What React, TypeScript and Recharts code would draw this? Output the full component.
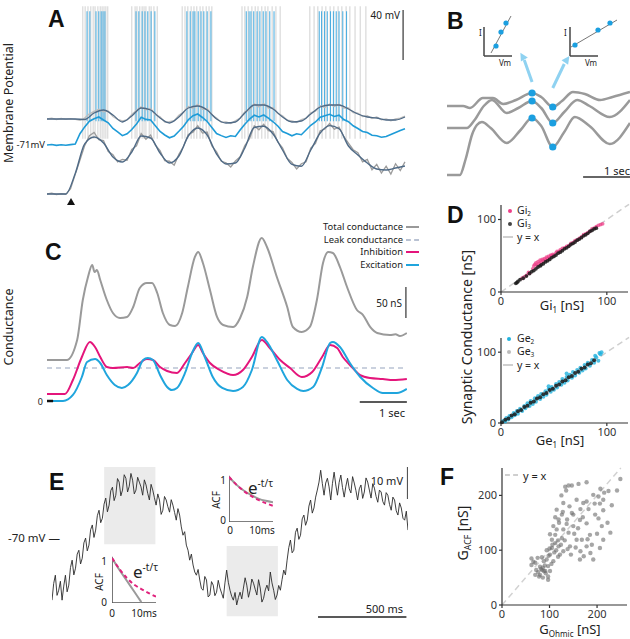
import React from 'react';
import {
  LineChart, ComposedChart, ScatterChart, Line, Scatter, XAxis, YAxis,
  ReferenceLine, ReferenceArea, ReferenceDot,
} from 'recharts';

const FONT = '"Noto Sans", "Open Sans", sans-serif';
const BOLD = '"Liberation Sans", Arial, sans-serif';
const M0 = { top: 0, right: 0, bottom: 0, left: 0 };

// ---------------- Panel A (membrane potential, mV; time s) ----------------
const A_SMOOTH_DT = 0.2;
const A_NOISE_DT = 0.1;
const A_TOP_SMOOTH = [-50.2, -50.2, -50.2, -50.2, -50.6, -45.4, -43.0, -47.0, -52.6, -47.8, -41.4, -43.0, -49.4, -53.4, -48.6, -41.4, -39.8, -43.0, -50.2, -53.4, -52.6, -45.4, -39.0, -39.0, -42.2, -48.6, -52.6, -51.8, -46.2, -40.6, -39.0, -39.0, -42.2, -46.2, -48.6, -49.4, -51.0, -51.0, -48.6];
const A_TOP_NOISE = [-50.2, -49.6, -50.6, -49.8, -50.4, -49.9, -50.5, -51.2, -49.5, -46.0, -44.2, -42.5, -44.5, -43.8, -48.2, -50.5, -51.8, -50.9, -46.5, -43.2, -40.5, -42.8, -41.9, -46.8, -48.5, -52.6, -52.4, -51.5, -47.2, -44.6, -40.2, -41.5, -38.6, -42.5, -42.0, -46.8, -49.5, -52.8, -52.5, -53.8, -51.6, -49.5, -44.5, -42.8, -38.2, -40.5, -38.0, -41.5, -41.2, -45.8, -47.6, -51.2, -51.8, -53.0, -50.8, -49.5, -45.2, -44.0, -39.6, -41.0, -38.2, -40.2, -38.4, -41.5, -41.4, -45.0, -45.5, -48.2, -47.6, -49.8, -48.6, -50.8, -50.2, -51.6, -50.2, -49.6, -48.0];
const A_MID = [-71.0, -70.6, -71.3, -70.8, -71.2, -70.7, -70.2, -62.0, -56.5, -52.0, -50.0, -48.6, -51.0, -53.2, -57.8, -60.5, -63.5, -62.0, -58.6, -54.2, -48.8, -50.5, -51.0, -55.6, -60.2, -63.0, -65.2, -63.8, -60.0, -56.0, -50.8, -47.5, -46.2, -49.0, -52.2, -57.0, -61.8, -63.5, -65.0, -63.6, -64.2, -59.0, -54.4, -50.2, -47.2, -48.6, -47.0, -49.5, -52.4, -55.8, -60.2, -61.8, -63.6, -62.0, -62.8, -59.0, -55.2, -52.6, -48.8, -47.6, -46.4, -48.2, -47.2, -50.6, -52.4, -55.6, -57.8, -60.2, -61.0, -63.2, -63.6, -64.8, -64.2, -62.6, -61.0, -59.4, -58.0];
const A_BOT_SMOOTH = [-110.2, -110.2, -110.2, -93.7, -70.1, -64.6, -69.4, -80.6, -84.6, -76.6, -63.8, -65.4, -77.4, -85.4, -79.8, -63.8, -57.4, -63.0, -78.2, -86.2, -85.4, -73.4, -57.0, -56.0, -62.2, -75.0, -86.5, -88.0, -75.0, -61.4, -55.5, -58.0, -71.8, -79.0, -85.4, -90.2, -91.0, -89.4, -87.8];
const A_BOT_NOISE = [-110.2, -109.6, -110.6, -110.0, -110.4, -106.0, -94.5, -83.0, -71.5, -63.5, -61.0, -66.8, -67.5, -76.2, -78.8, -84.5, -82.6, -83.2, -74.5, -71.6, -61.8, -66.4, -63.0, -71.2, -75.5, -83.6, -84.0, -87.2, -78.5, -72.0, -62.5, -60.8, -55.6, -61.5, -60.6, -71.8, -76.5, -84.0, -85.2, -88.6, -83.8, -80.4, -71.5, -66.0, -55.6, -58.8, -54.4, -59.6, -60.2, -68.5, -73.2, -81.6, -85.0, -90.2, -86.0, -84.4, -73.5, -69.8, -59.6, -58.2, -53.8, -58.4, -56.6, -64.2, -69.5, -74.8, -77.2, -84.5, -82.6, -90.8, -86.5, -93.5, -88.0, -94.2, -86.0, -91.5, -84.5];
const A_GRAY_SPIKES = [0.76, 0.81, 0.87, 0.93, 0.98, 1.02, 1.08, 1.13, 1.17, 1.21, 1.25, 1.29, 1.80, 1.87, 1.91, 1.97, 2.02, 2.06, 2.10, 2.17, 2.21, 2.27, 2.34, 2.87, 2.93, 2.99, 3.06, 3.12, 3.18, 3.25, 3.31, 3.38, 3.44, 3.50, 4.14, 4.20, 4.27, 4.35, 4.42, 4.48, 4.56, 4.63, 4.69, 4.78, 4.86, 4.95, 5.58, 5.67, 5.75, 5.84, 5.92, 6.01, 6.09, 6.18, 6.26, 6.35, 6.43, 6.54, 6.65, 6.77];
const A_BLUE_SPIKES = [0.85, 0.91, 1.04, 1.10, 1.15, 1.19, 1.23, 1.89, 1.95, 2.02, 2.08, 2.14, 2.21, 2.29, 2.97, 3.04, 3.10, 3.14, 3.21, 3.27, 3.33, 3.40, 3.48, 4.23, 4.29, 4.33, 4.39, 4.46, 4.52, 4.59, 4.65, 4.73, 4.82, 5.78, 5.83, 5.89, 5.95, 6.02, 6.08, 6.14, 6.20, 6.28, 6.36];
const A_GRAY_SPIKE_RANGE = [-66, 40];
const A_BLUE_SPIKE_RANGE = [-52, 36];
const A_STIM = { t: 0.51, v: -116.6 };

// ---------------- Panel B ----------------
const B_TOP = [[0, -53], [0.35, -53], [0.5, -54], [0.78, -49], [1.0, -49], [1.22, -52], [1.5, -50], [1.85, -46.5], [2.05, -48.5], [2.3, -53.5], [2.5, -50.5], [2.74, -46], [3.0, -47], [3.33, -50], [3.6, -48.5], [3.98, -46]];
const B_MID = [[0, -64], [0.43, -64], [0.6, -60], [0.8, -53], [0.98, -50], [1.3, -56.5], [1.55, -54], [1.85, -50.5], [2.05, -54], [2.3, -61.5], [2.55, -56], [2.83, -50], [3.1, -53], [3.54, -58.5], [3.98, -50]];
const B_BOT = [[0, -87.5], [0.28, -87.5], [0.4, -80], [0.55, -67], [0.65, -62.5], [0.76, -61], [0.95, -64], [1.3, -71.5], [1.6, -65], [1.85, -59], [2.05, -63], [2.3, -73.5], [2.55, -66], [2.78, -58.5], [3.1, -63], [3.54, -72], [3.98, -61.5]];
const B_DOTS = [[1.85, -46.5], [1.85, -50.5], [1.85, -59], [2.3, -53.5], [2.3, -61.5], [2.3, -73.5]];
const B_IV_LEFT_FIT = [[7, 3], [27, 40]];
const B_IV_LEFT_PTS = [[12, 10], [17, 24], [22, 33]];
const B_IV_RIGHT_FIT = [[1, 9], [47, 36]];
const B_IV_RIGHT_PTS = [[5, 11], [28, 26], [40, 33]];

// ---------------- Panel C (conductance nS; time s) ----------------
const C_TOTAL = [[0, 66.1], [0.42, 66.1], [0.64, 98.4], [0.76, 162.9], [0.87, 200.0], [0.96, 219.4], [1.01, 208], [1.06, 211.3], [1.13, 195.2], [1.27, 162.9], [1.40, 141.9], [1.55, 133.9], [1.70, 135.5], [1.83, 151.6], [1.97, 182.3], [2.12, 190.3], [2.23, 190.3], [2.34, 174.2], [2.46, 141.9], [2.61, 122.6], [2.72, 121.0], [2.87, 141.9], [2.99, 183.9], [3.14, 232.3], [3.21, 240.3], [3.31, 222.6], [3.46, 179.0], [3.61, 135.5], [3.74, 122.6], [3.95, 119.4], [4.10, 133.9], [4.25, 167.7], [4.37, 216.1], [4.56, 262.9], [4.67, 248.4], [4.88, 200.0], [5.10, 151.6], [5.22, 119.4], [5.41, 111.3], [5.58, 119.4], [5.73, 162.9], [5.86, 222.6], [5.97, 240.3], [6.07, 238.7], [6.22, 216.1], [6.37, 183.9], [6.58, 146.8], [6.71, 138.7], [6.86, 119.4], [7.01, 109.7], [7.28, 106.5], [7.40, 107.5], [7.49, 104.8], [7.64, 109.7]];
const C_INH = [[0, 11.3], [0.38, 11.3], [0.55, 33.9], [0.74, 71.0], [0.91, 95.2], [1.02, 87.1], [1.13, 71.0], [1.27, 54.8], [1.40, 53.2], [1.70, 54.8], [1.83, 53.2], [1.97, 61.3], [2.12, 67.7], [2.25, 66.1], [2.40, 54.8], [2.55, 48.4], [2.76, 45.2], [2.93, 61.3], [3.08, 77.4], [3.21, 90.3], [3.31, 77.4], [3.46, 61.3], [3.67, 50.0], [3.95, 41.9], [4.16, 50.0], [4.35, 71.0], [4.56, 98.4], [4.73, 85.5], [4.95, 66.1], [5.16, 53.2], [5.41, 38.7], [5.63, 46.8], [5.84, 71.0], [6.01, 90.3], [6.16, 85.5], [6.28, 71.0], [6.43, 58.1], [6.65, 41.9], [6.86, 37.1], [7.13, 35.5], [7.35, 33.9], [7.64, 35.5]];
const C_EXC = [[0, 0], [0.34, 0], [0.55, 9.7], [0.74, 38.7], [0.85, 62.9], [1.02, 67.7], [1.13, 61.3], [1.27, 41.9], [1.44, 25.8], [1.59, 21.0], [1.72, 25.8], [1.91, 45.2], [2.04, 66.1], [2.14, 69.4], [2.25, 66.1], [2.40, 41.9], [2.55, 22.6], [2.65, 17.7], [2.76, 21.0], [2.93, 45.2], [3.08, 77.4], [3.21, 93.6], [3.35, 71.0], [3.52, 38.7], [3.72, 21.0], [3.95, 16.1], [4.16, 22.6], [4.35, 50.0], [4.56, 103.2], [4.67, 95.2], [4.88, 66.1], [5.10, 33.9], [5.31, 19.4], [5.44, 16.1], [5.65, 22.6], [5.84, 54.8], [6.01, 93.6], [6.07, 95.2], [6.22, 87.1], [6.43, 61.3], [6.65, 38.7], [6.92, 21.0], [7.13, 12.9], [7.43, 12.9], [7.64, 19.4]];
const C_LEAK = 53.2;

// ---------------- Panel D (nS) ----------------
const D_GI2 = [[20, 19], [22, 21], [24, 23], [26, 27], [27, 26], [30, 32], [31, 36], [32, 38], [33, 40], [34, 37], [35, 42], [36, 39], [37, 44], [38, 41], [39, 45], [40, 43], [41, 46], [42, 44], [43, 48], [44, 46], [45, 49], [46, 47], [47, 51], [48, 50], [49, 52], [50, 51], [52, 54], [53, 56], [55, 56], [56, 58], [58, 60], [60, 61], [62, 63], [64, 64], [66, 67], [68, 68], [70, 71], [72, 72], [74, 74], [76, 76], [78, 79], [80, 80], [82, 82], [84, 84], [86, 87], [88, 88], [90, 90], [92, 92], [94, 93], [96, 94]];
const D_GI3 = [[14, 12], [15, 13], [16, 14.5], [18, 17], [21, 19], [24, 22], [27, 25.5], [29, 28], [31, 29.5], [33, 32], [35, 34.5], [37, 36], [38, 37.5], [40, 39], [42, 41.5], [44, 43], [46, 45], [48, 47.5], [50, 49], [52, 51], [54, 53.5], [56, 55], [58, 57], [60, 59.5], [62, 61], [64, 63], [66, 65.5], [68, 67], [70, 69], [72, 71.5], [74, 73], [76, 75], [78, 77.5], [80, 79], [82, 81], [84, 83.5], [86, 85], [88, 87], [90, 88]];
const D_GE2 = [[2, 3], [4, 2], [5, 7], [7, 5], [8, 10], [10, 8], [12, 14], [13, 11], [15, 17], [16, 13], [18, 20], [20, 17], [22, 24], [23, 21], [25, 28], [27, 24], [28, 31], [30, 27], [32, 35], [33, 30], [35, 38], [37, 34], [38, 41], [40, 37], [42, 45], [43, 40], [45, 48], [47, 44], [48, 51], [50, 47], [52, 55], [53, 50], [55, 58], [57, 54], [58, 62], [60, 57], [62, 65], [63, 60], [65, 68], [67, 64], [68, 72], [70, 67], [72, 75], [74, 71], [75, 78], [77, 74], [79, 82], [80, 77], [82, 85], [84, 81], [86, 89], [88, 85], [90, 93], [92, 88], [94, 97], [95, 100], [93, 99], [89, 95], [62, 70], [45, 52]];
const D_GE3 = [[1, 1], [4, 4.5], [7, 6.5], [10, 10.5], [13, 12.5], [16, 16.5], [19, 18.5], [22, 22.5], [25, 24.5], [28, 28.5], [31, 30.5], [34, 34.5], [37, 36.5], [40, 40.5], [43, 42.5], [46, 46.5], [49, 48.5], [52, 52.5], [55, 54.5], [58, 58.5], [61, 60.5], [64, 64.5], [67, 66.5], [70, 70.5], [73, 72.5], [76, 76.5], [79, 78.5], [82, 82.5], [85, 84.5], [88, 88.5]];

// ---------------- Panel E (mV; ms) ----------------
const E_DT_MS = 9.5;
const E_TRACE = [
  -89.4, -84.2, -81.6, -87.9, -86.3, -83.5, -89.4, -85.0, -81.6, -86.8, -84.7, -79.2, -76.9, -81.5, -79.4, -75.0, -73.8, -78.1, -76.3, -71.5,
  -70.0, -74.0, -72.2, -67.4, -65.9, -69.8, -67.5, -63.0, -61.3, -65.2, -63.8, -59.4, -57.5, -61.8, -59.7, -55.2, -54.1, -58.3, -56.6, -51.4,
  -52.5, -56.8, -55.0, -50.2, -51.3, -55.6, -53.8, -49.8, -51.9, -56.2, -55.0, -51.0, -52.5, -54.0, -56.6, -51.8, -53.4, -56.0, -58.1, -53.2,
  -55.0, -57.4, -59.7, -56.2, -58.1, -62.6, -61.3, -57.0, -58.1, -60.2, -61.9, -58.0, -59.7, -62.0, -64.4, -60.8, -62.8, -66.5, -69.1, -68.0,
  -72.2, -73.8, -76.9, -75.0, -78.4, -80.6, -81.6, -79.8, -83.1, -85.8, -86.3, -82.0, -83.1, -88.4, -87.8, -83.6, -84.7, -88.0, -86.9, -83.2,
  -85.6, -87.2, -88.8, -84.0, -80.0, -83.8, -86.3, -88.2, -89.4, -87.0, -90.9, -88.6, -86.9, -89.0, -85.6, -82.4, -84.7, -88.5, -86.3, -82.8,
  -84.1, -86.0, -87.8, -83.0, -85.6, -90.0, -88.8, -86.2, -84.7, -86.5, -80.6, -84.0, -86.3, -89.2, -87.8, -84.8, -86.3, -83.0, -80.0, -81.5,
  -76.9, -73.0, -70.6, -74.6, -73.8, -68.2, -66.9, -70.4, -69.1, -64.0, -62.8, -66.0, -64.4, -60.0, -58.1, -62.2, -60.6, -57.2, -55.0, -52.5,
  -48.8, -53.0, -56.6, -52.8, -51.3, -54.0, -58.1, -53.0, -49.4, -53.4, -56.6, -52.6, -50.3, -54.2, -57.2, -53.8, -51.3, -54.6, -55.9, -50.8,
  -52.8, -55.2, -58.1, -54.6, -53.4, -57.6, -55.6, -51.2, -52.5, -55.0, -57.5, -53.0, -54.4, -57.0, -58.8, -55.0, -55.6, -58.6, -59.7, -55.8,
  -56.6, -59.5, -61.3, -57.2, -58.1, -61.5, -62.8, -59.0, -60.6, -63.8, -64.4, -61.6, -67.5,
];
const E_WINDOWS = [{ t1: 295, t2: 585, v1: -71.9, v2: -47.8 }, { t1: 988, t2: 1278, v1: -94.4, v2: -72.5 }];
const ACF_LAG = [0, 2.5, 5, 7.5, 10, 12.5, 15];
const ACF1_DATA = [1, 0.74, 0.5, 0.26, 0.02];
const ACF1_FIT = [1, 0.76, 0.56, 0.41, 0.31, 0.22, 0.14];
const ACF2_DATA = [1, 0.83, 0.7, 0.6, 0.52, 0.47, 0.44];
const ACF2_FIT = [1, 0.83, 0.69, 0.58, 0.49, 0.42, 0.36];

// ---------------- Panel F (nS) ----------------
const F_PTS = [[62, 85], [66, 79], [62, 73], [70, 77], [75, 86], [84, 87], [80, 70], [84, 64], [80, 55], [70, 55], [76, 60], [82, 66], [86, 68], [88, 62], [90, 72], [94, 83], [97, 71], [91, 62], [97, 52], [97, 46], [101, 62], [108, 80], [101, 92], [105, 104], [112, 113], [119, 107], [122, 92], [129, 98], [126, 122], [115, 138], [108, 144], [119, 156], [126, 165], [115, 174], [129, 186], [133, 216], [135, 209], [140, 218], [147, 218], [161, 221], [178, 224], [157, 192], [171, 186], [178, 189], [192, 201], [203, 198], [213, 192], [206, 185], [231, 182], [213, 173], [203, 158], [178, 149], [164, 155], [150, 144], [140, 132], [143, 107], [157, 119], [168, 119], [178, 107], [186, 95], [189, 110], [172, 89], [192, 83], [206, 104], [213, 119], [210, 144], [228, 132], [242, 209], [249, 230], [164, 83], [137, 156], [147, 168], [129, 138], [101, 129], [105, 119], [110, 96], [114, 100], [118, 88], [124, 110], [132, 118], [138, 102], [145, 92], [152, 130], [160, 140], [170, 160], [182, 175], [196, 165], [222, 150], [200, 130], [185, 128], [155, 105], [165, 98], [120, 150], [112, 128], [98, 90], [94, 100], [104, 75], [88, 80], [112, 160], [128, 170], [142, 180], [125, 200], [136, 148], [150, 165], [165, 175], [180, 120], [195, 185], [207, 212], [215, 205], [224, 208], [118, 118], [106, 110], [100, 103], [92, 58], [86, 50], [78, 52], [72, 64]];

// ---------------- helpers ----------------
const seq = (vals: number[], dt: number) => vals.map((v, i) => ({ t: Math.round(i * dt * 1000) / 1000, v }));
const pairs = (arr: number[][]) => arr.map(([t, v]) => ({ t, v }));
const xy = (arr: number[][]) => arr.map(([x, y]) => ({ x, y }));
const spikeRows = (times: number[], range: number[]) =>
  times.flatMap((t) => [{ t, v: range[0] }, { t, v: range[1] }, { t, v: null as number | null }]);
const lagRows = (vals: number[]) => vals.map((v, i) => ({ t: ACF_LAG[i], v }));

type TP = { x: number; y: number; size?: number; anchor?: 'start' | 'middle' | 'end'; rotate?: number; bold?: boolean; color?: string; family?: string; children: React.ReactNode };
const T = ({ x, y, size = 11, anchor = 'start', rotate = 0, bold = false, color = '#222', family = FONT, children }: TP) => {
  const tx = anchor === 'start' ? '0%' : anchor === 'middle' ? '-50%' : '-100%';
  return (
    <div style={{ position: 'absolute', left: x, top: y, fontSize: size, fontFamily: family, fontWeight: bold ? 700 : 400, color, lineHeight: 1, whiteSpace: 'nowrap', transform: `translate(${tx},-50%)${rotate ? ` rotate(${rotate}deg)` : ''}` }}>
      {children}
    </div>
  );
};
const Pos = ({ x, y, children }: { x: number; y: number; children: React.ReactNode }) => (
  <div style={{ position: 'absolute', left: x, top: y }}>{children}</div>
);
const Dot = ({ x, y, c, r = 2 }: { x: number; y: number; c: string; r?: number }) => (
  <div style={{ position: 'absolute', left: x - r, top: y - r, width: r * 2, height: r * 2, borderRadius: '50%', background: c }} />
);
const Dash = ({ x, y, w, c, dashed = false, h = 2 }: { x: number; y: number; w: number; c: string; dashed?: boolean; h?: number }) => (
  <div style={{ position: 'absolute', left: x, top: y - h / 2, width: w, height: 0, borderTop: `${h}px ${dashed ? 'dashed' : 'solid'} ${c}` }} />
);
const circle = (r: number, fill: string, op = 1) => (p: any) => <circle cx={p.cx} cy={p.cy} r={r} fill={fill} fillOpacity={op} />;
const Tri = (p: any) => <polygon points={`${p.cx},${p.cy - 4} ${p.cx - 4},${p.cy + 3} ${p.cx + 4},${p.cy + 3}`} fill="#111" />;
const Head = (angle: number) => (p: any) => (
  <polygon points={`${p.cx},${p.cy - 5} ${p.cx - 4},${p.cy + 3} ${p.cx + 4},${p.cy + 3}`} fill="#8fd2f1" transform={`rotate(${angle} ${p.cx} ${p.cy})`} />
);
const sub = (s: string) => <span style={{ fontSize: '0.62em', position: 'relative', top: '0.35em' }}>{s}</span>;
const sup = (s: string) => <span style={{ fontSize: 10, position: 'relative', top: '-0.75em' }}>{s}</span>;

const tickStyle = { fontSize: 11, fill: '#333', fontFamily: FONT };
const axisLn = { stroke: '#333', strokeWidth: 1.2 };

export default function App() {
  const L = (data: any[], stroke: string, w: number, extra: any = {}) => (
    <Line data={data} dataKey="v" stroke={stroke} strokeWidth={w} dot={false} isAnimationActive={false} type="linear" {...extra} />
  );

  const ivInset = (fit: number[][], pts: number[][], w: number, domX: number[]) => (
    <ComposedChart width={w} height={50} margin={M0}>
      <XAxis type="number" dataKey="t" domain={domX} hide />
      <YAxis type="number" dataKey="v" domain={[-6, 44]} hide />
      <ReferenceLine segment={[{ x: 0, y: 0 }, { x: 28, y: 0 }]} stroke="#444" strokeWidth={1.5} ifOverflow="visible" />
      <ReferenceLine segment={[{ x: 0, y: 0 }, { x: 0, y: 29 }]} stroke="#444" strokeWidth={1.5} ifOverflow="visible" />
      {L(pairs(fit), '#777', 1)}
      <Scatter data={pairs(pts)} fill="#1b9fe0" shape={circle(2.6, '#1b9fe0')} isAnimationActive={false} />
    </ComposedChart>
  );

  const acfInset = (dataVals: number[], fitVals: number[]) => (
    <LineChart width={44} height={47} margin={M0}>
      <XAxis type="number" dataKey="t" domain={[0, 15]} hide />
      <YAxis type="number" domain={[0, 1.044]} hide />
      <ReferenceLine segment={[{ x: 0, y: 0 }, { x: 0, y: 1.03 }]} stroke="#555" strokeWidth={1.6} ifOverflow="visible" />
      <ReferenceLine segment={[{ x: 0, y: 0 }, { x: 15, y: 0 }]} stroke="#555" strokeWidth={1.6} ifOverflow="visible" />
      {L(lagRows(dataVals), '#9a9a9a', 2, { type: 'monotone' })}
      {L(lagRows(fitVals), '#e0237d', 2, { type: 'monotone', strokeDasharray: '4 3' })}
    </LineChart>
  );

  return (
    <div style={{ position: 'absolute', left: 0, top: 0, width: 630, height: 639, background: '#fff', overflow: 'hidden', fontFamily: FONT }}>
      {/* ---------- A ---------- */}
      <T x={48} y={19} size={23} bold family={BOLD} color="#111">A</T>
      <T x={9} y={103} size={12.5} anchor="middle" rotate={-90}>Membrane Potential</T>
      <T x={45} y={145} size={9.5} anchor="end">-71mV</T>
      <T x={400} y={15} size={10} anchor="end">40 mV</T>
      <Pos x={47} y={5}>
        <LineChart width={360} height={200} margin={M0}>
          <XAxis type="number" dataKey="t" domain={[0, 7.643]} hide />
          <YAxis type="number" domain={[-119, 41]} hide />
          {L(spikeRows(A_GRAY_SPIKES, A_GRAY_SPIKE_RANGE), '#d6d6d6', 1.1)}
          {L(spikeRows(A_BLUE_SPIKES, A_BLUE_SPIKE_RANGE), '#45abdf', 1)}
          {L(seq(A_TOP_NOISE, A_NOISE_DT), '#bdbdbd', 1.4)}
          {L(seq(A_TOP_SMOOTH, A_SMOOTH_DT), '#4f6a86', 1.3, { type: 'monotone' })}
          {L(seq(A_MID, A_NOISE_DT), '#1e9bd7', 1.6)}
          {L(seq(A_BOT_NOISE, A_NOISE_DT), '#9c9c9c', 1.3)}
          {L(seq(A_BOT_SMOOTH, A_SMOOTH_DT), '#4f6a86', 1.4, { type: 'monotone' })}
          <ReferenceLine segment={[{ x: 7.56, y: -3 }, { x: 7.56, y: 37 }]} stroke="#333" strokeWidth={1.2} ifOverflow="visible" />
          <ReferenceDot x={A_STIM.t} y={A_STIM.v} shape={Tri} ifOverflow="visible" />
        </LineChart>
      </Pos>

      {/* ---------- B ---------- */}
      <T x={447} y={21} size={23} bold family={BOLD} color="#111">B</T>
      <Pos x={447} y={0}>
        <ComposedChart width={183} height={200} margin={M0}>
          <XAxis type="number" dataKey="t" domain={[0, 3.978]} hide />
          <YAxis type="number" dataKey="v" domain={[-100, 0]} hide />
          {L(pairs(B_TOP), '#9a9a9a', 2.5, { type: 'monotone' })}
          {L(pairs(B_MID), '#9a9a9a', 2.5, { type: 'monotone' })}
          {L(pairs(B_BOT), '#9a9a9a', 2.5, { type: 'monotone' })}
          <Scatter data={pairs(B_DOTS)} shape={circle(3.6, '#1b9fe0')} isAnimationActive={false} />
          <ReferenceLine segment={[{ x: 1.85, y: -41 }, { x: 1.68, y: -30 }]} stroke="#8fd2f1" strokeWidth={3} ifOverflow="visible" />
          <ReferenceDot x={1.65} y={-28.5} shape={Head(-30)} ifOverflow="visible" />
          <ReferenceLine segment={[{ x: 2.3, y: -44 }, { x: 2.55, y: -32 }]} stroke="#8fd2f1" strokeWidth={3} ifOverflow="visible" />
          <ReferenceDot x={2.6} y={-30} shape={Head(35)} ifOverflow="visible" />
          <ReferenceLine segment={[{ x: 2.96, y: -88.5 }, { x: 3.98, y: -88.5 }]} stroke="#333" strokeWidth={1.3} ifOverflow="visible" />
        </ComposedChart>
      </Pos>
      <T x={630} y={170} size={11} anchor="end">1 sec</T>
      <Pos x={480} y={12}>{ivInset(B_IV_LEFT_FIT, B_IV_LEFT_PTS, 50, [-4, 46])}</Pos>
      <Pos x={566} y={12}>{ivInset(B_IV_RIGHT_FIT, B_IV_RIGHT_PTS, 60, [-4, 56])}</Pos>
      <T x={479} y={33} size={8}>I</T>
      <T x={505} y={63} size={8} anchor="middle">Vm</T>
      <T x={564} y={33} size={8}>I</T>
      <T x={591} y={63} size={8} anchor="middle">Vm</T>

      {/* ---------- C ---------- */}
      <T x={45} y={252} size={23} bold family={BOLD} color="#111">C</T>
      <T x={9} y={327} size={12.5} anchor="middle" rotate={-90}>Conductance</T>
      <T x={403} y={227} size={9.4} anchor="end">Total conductance</T>
      <Dash x={406} y={227} w={13} c="#999" />
      <T x={403} y={239.5} size={9.4} anchor="end">Leak conductance</T>
      <Dash x={406} y={239.5} w={13} c="#b9c2d3" dashed />
      <T x={403} y={252} size={9.4} anchor="end">Inhibition</T>
      <Dash x={406} y={252} w={13} c="#e4157b" />
      <T x={403} y={264.5} size={9.4} anchor="end">Excitation</T>
      <Dash x={406} y={264.5} w={13} c="#20a5dd" />
      <T x={402} y={303} size={10} anchor="end">50 nS</T>
      <T x={405} y={412} size={11} anchor="end">1 sec</T>
      <T x={43} y={401} size={9} anchor="end">0</T>
      <Pos x={47} y={224}>
        <LineChart width={360} height={185} margin={M0}>
          <XAxis type="number" dataKey="t" domain={[0, 7.643]} hide />
          <YAxis type="number" domain={[-12.9, 285.5]} hide />
          <ReferenceLine y={C_LEAK} stroke="#b9c2d3" strokeWidth={1.3} strokeDasharray="5 4" />
          {L(pairs(C_TOTAL), '#9a9a9a', 2, { type: 'monotone' })}
          {L(pairs(C_INH), '#e4157b', 2, { type: 'monotone' })}
          {L(pairs(C_EXC), '#20a5dd', 2, { type: 'monotone' })}
          <ReferenceLine segment={[{ x: 0, y: 0 }, { x: 0.13, y: 0 }]} stroke="#111" strokeWidth={2.5} ifOverflow="visible" />
          <ReferenceLine segment={[{ x: 7.62, y: 133.9 }, { x: 7.62, y: 183.9 }]} stroke="#333" strokeWidth={1.2} ifOverflow="visible" />
          <ReferenceLine segment={[{ x: 6.64, y: -1.6 }, { x: 7.64, y: -1.6 }]} stroke="#222" strokeWidth={1.5} ifOverflow="visible" />
        </LineChart>
      </Pos>

      {/* ---------- D ---------- */}
      <T x={447} y={215} size={23} bold family={BOLD} color="#111">D</T>
      <T x={467} y={337} size={14} anchor="middle" rotate={-90}>Synaptic Conductance [nS]</T>
      <Pos x={470} y={200}>
        <ScatterChart width={160} height={110} margin={{ top: 5, right: 2, bottom: 0, left: 0 }}>
          <XAxis type="number" dataKey="x" domain={[0, 120]} ticks={[0, 100]} height={18} tickSize={3} tick={tickStyle} axisLine={axisLn} tickLine={axisLn} />
          <YAxis type="number" dataKey="y" domain={[0, 120]} ticks={[0, 100]} width={31} tickSize={3} tick={tickStyle} axisLine={axisLn} tickLine={axisLn} />
          <ReferenceLine segment={[{ x: 0, y: 0 }, { x: 121, y: 121 }]} stroke="#cfcfcf" strokeWidth={1.5} strokeDasharray="6 4" ifOverflow="visible" />
          <Scatter data={xy(D_GI2)} shape={circle(1.9, '#ee3f88', 0.75)} isAnimationActive={false} />
          <Scatter data={xy(D_GI3)} shape={circle(1.9, '#1a1a1a', 0.85)} isAnimationActive={false} />
        </ScatterChart>
      </Pos>
      <Dot x={510} y={211} c="#ee3f88" />
      <T x={517} y={210} size={10.5}>Gi{sub('2')}</T>
      <Dot x={510} y={224} c="#444" />
      <T x={517} y={223} size={10.5}>Gi{sub('3')}</T>
      <Dash x={503} y={237} w={10} c="#cfcfcf" dashed />
      <T x={517} y={237} size={10.5}>y = x</T>
      <T x={562} y={305} size={13} anchor="middle">Gi{sub('1')} [nS]</T>

      <Pos x={470} y={333}>
        <ScatterChart width={160} height={108} margin={{ top: 5, right: 2, bottom: 0, left: 0 }}>
          <XAxis type="number" dataKey="x" domain={[0, 120]} ticks={[0, 100]} height={18} tickSize={3} tick={tickStyle} axisLine={axisLn} tickLine={axisLn} />
          <YAxis type="number" dataKey="y" domain={[0, 120]} ticks={[0, 100]} width={31} tickSize={3} tick={tickStyle} axisLine={axisLn} tickLine={axisLn} />
          <ReferenceLine segment={[{ x: 0, y: 0 }, { x: 121, y: 121 }]} stroke="#cfcfcf" strokeWidth={1.5} strokeDasharray="6 4" ifOverflow="visible" />
          <Scatter data={xy(D_GE2)} shape={circle(2, '#22b2dd', 0.8)} isAnimationActive={false} />
          <Scatter data={xy(D_GE3)} shape={circle(2, '#1a1a1a', 0.85)} isAnimationActive={false} />
        </ScatterChart>
      </Pos>
      <Dot x={509} y={339} c="#22b2dd" />
      <T x={517} y={338} size={10.5}>Ge{sub('2')}</T>
      <Dot x={509} y={352} c="#bbbbbb" />
      <T x={517} y={351} size={10.5}>Ge{sub('3')}</T>
      <Dash x={503} y={365} w={10} c="#cfcfcf" dashed />
      <T x={517} y={365} size={10.5}>y = x</T>
      <T x={560} y={440} size={13} anchor="middle">Ge{sub('1')} [nS]</T>

      {/* ---------- E ---------- */}
      <T x={49} y={482} size={23} bold family={BOLD} color="#111">E</T>
      <T x={8} y={538} size={11.5}>-70 mV —</T>
      <T x={403} y={480} size={11} anchor="end">10 mV</T>
      <T x={403} y={608} size={11} anchor="end">500 ms</T>
      <Pos x={52} y={460}>
        <LineChart width={356} height={160} margin={M0}>
          <XAxis type="number" dataKey="t" domain={[0, 2014]} hide />
          <YAxis type="number" domain={[-95.6, -45.6]} hide />
          {E_WINDOWS.map((w, i) => (
            <ReferenceArea key={i} x1={w.t1} x2={w.t2} y1={w.v1} y2={w.v2} fill="#ebebeb" fillOpacity={1} stroke="none" ifOverflow="visible" />
          ))}
          {L(seq(E_TRACE, E_DT_MS), '#2a2a2a', 0.9)}
          <ReferenceLine segment={[{ x: 2012, y: -57.8 }, { x: 2012, y: -47.8 }]} stroke="#555" strokeWidth={1.5} ifOverflow="visible" />
          <ReferenceLine segment={[{ x: 1505, y: -94.7 }, { x: 2005, y: -94.7 }]} stroke="#222" strokeWidth={1.5} ifOverflow="visible" />
        </LineChart>
      </Pos>
      <Pos x={112} y={556}>{acfInset(ACF1_DATA, ACF1_FIT)}</Pos>
      <T x={107} y={561} size={10} anchor="end">1</T>
      <T x={107} y={602} size={10} anchor="end">0</T>
      <T x={99} y={582} size={10} anchor="middle" rotate={-90}>ACF</T>
      <T x={112} y={613} size={10} anchor="middle">0</T>
      <T x={144} y={613} size={10} anchor="middle">10ms</T>
      <T x={133} y={571} size={17}>e{sup('-t/τ')}</T>
      <Pos x={229} y={475}>{acfInset(ACF2_DATA, ACF2_FIT)}</Pos>
      <T x={226} y={480} size={10} anchor="end">1</T>
      <T x={226} y={520} size={10} anchor="end">0</T>
      <T x={216} y={500} size={10} anchor="middle" rotate={-90}>ACF</T>
      <T x={230} y={530} size={10} anchor="middle">0</T>
      <T x={262} y={530} size={10} anchor="middle">10ms</T>
      <T x={248} y={487} size={17}>e{sup('-t/τ')}</T>

      {/* ---------- F ---------- */}
      <T x={440} y={477} size={23} bold family={BOLD} color="#111">F</T>
      <T x={463} y={533} size={14} anchor="middle" rotate={-90}>G{sub('ACF')} [nS]</T>
      <T x={570} y={629} size={13} anchor="middle">G{sub('Ohmic')} [nS]</T>
      <Pos x={470} y={463}>
        <ScatterChart width={160} height={160} margin={{ top: 5, right: 3, bottom: 0, left: 0 }}>
          <XAxis type="number" dataKey="x" domain={[0, 263]} ticks={[0, 100, 200]} height={18} tickSize={3} tick={tickStyle} axisLine={axisLn} tickLine={axisLn} />
          <YAxis type="number" dataKey="y" domain={[0, 250]} ticks={[0, 100, 200]} width={32} tickSize={3} tick={tickStyle} axisLine={axisLn} tickLine={axisLn} />
          <ReferenceLine segment={[{ x: 0, y: 0 }, { x: 250, y: 250 }]} stroke="#d2d2d2" strokeWidth={1.5} strokeDasharray="6 4" ifOverflow="visible" />
          <Scatter data={xy(F_PTS)} shape={circle(2.2, '#6a6a6a', 0.6)} isAnimationActive={false} />
        </ScatterChart>
      </Pos>
      <Dash x={505} y={475} w={13} c="#cfcfcf" dashed />
      <T x={523} y={475} size={11}>y = x</T>
    </div>
  );
}
